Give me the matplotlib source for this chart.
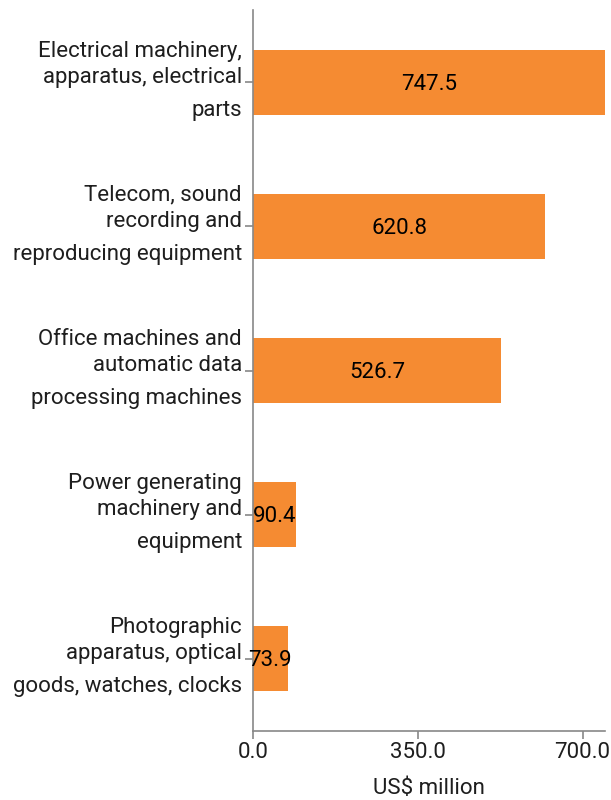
import matplotlib.pyplot as plt

categories = [
    ['Electrical machinery,', 'apparatus, electrical', 'parts'],
    ['Telecom, sound', 'recording and', 'reproducing equipment'],
    ['Office machines and', 'automatic data', 'processing machines'],
    ['Power generating', 'machinery and', 'equipment'],
    ['Photographic', 'apparatus, optical', 'goods, watches, clocks'],
]
values = [747.5, 620.8, 526.7, 90.4, 73.9]
xticks = [0, 350, 700]

bar_color = '#F58B32'
text_color = '#1e1e1e'
spine_color = '#888888'

plt.rcParams['font.family'] = ['Roboto', 'DejaVu Sans']

fig = plt.figure(figsize=(6.11, 8), dpi=100)
ax = fig.add_axes([0.414, 0.08625, 0.576, 0.90125])

pos = list(range(len(values)))
ax.barh(pos, values, height=0.45, color=bar_color)
ax.set_ylim(len(values) - 0.5, -0.5)
ax.set_xlim(0, max(values))

# value labels in the middle of each bar
for p, v in zip(pos, values):
    ax.annotate(f'{v:.1f}', xy=(v / 2, p), xytext=(0, -2),
                textcoords='offset pixels', ha='center', va='center',
                fontsize=16, color='black')

# category labels, one text per line so the spacing can be set by hand
ax.set_yticks(pos)
ax.set_yticklabels([''] * len(pos))
line_offsets = [31, 5, -28]
for p, lines in zip(pos, categories):
    for line, off in zip(lines, line_offsets):
        ax.annotate(line, xy=(0, p), xycoords=('axes fraction', 'data'),
                    xytext=(-11, off), textcoords='offset pixels',
                    ha='right', va='center', fontsize=16, color=text_color)

ax.set_xticks(xticks)
ax.set_xticklabels([f'{t:.1f}' for t in xticks], fontsize=16, color=text_color)
ax.set_xlabel('US$ million', fontsize=16, color=text_color, labelpad=11)

for side in ['top', 'right']:
    ax.spines[side].set_visible(False)
for side in ['left', 'bottom']:
    ax.spines[side].set_color(spine_color)
    ax.spines[side].set_linewidth(1.2)
ax.tick_params(axis='both', color=spine_color, length=6, width=1.2)
ax.tick_params(axis='x', pad=2)

fig.savefig('out.png', dpi=100)
